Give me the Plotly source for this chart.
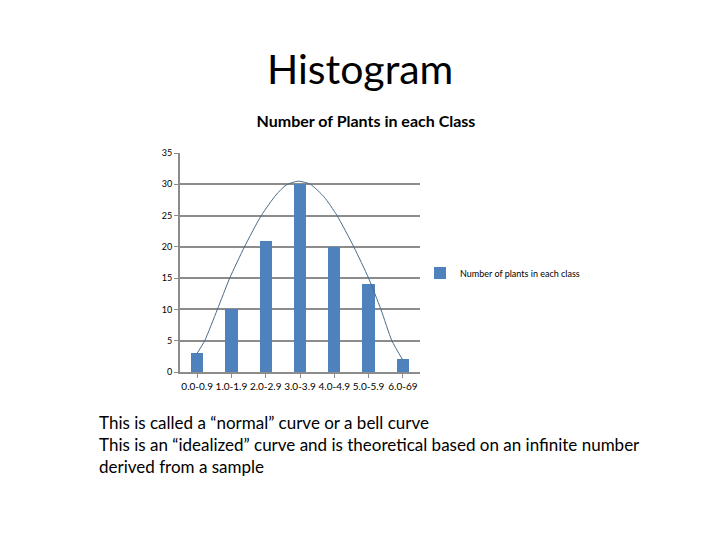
import plotly.graph_objects as go

categories = ["0.0-0.9", "1.0-1.9", "2.0-2.9", "3.0-3.9", "4.0-4.9", "5.0-5.9", "6.0-6.9"]
tick_labels = ["0.0-0.9", "1.0-1.9", "2.0-2.9", "3.0-3.9", "4.0-4.9", "5.0-5.9", "6.0-69"]
plant_counts = [3, 10, 21, 30, 20, 14, 2]

# hand-drawn bell curve (x in category units)
curve_x = [0.0, 0.22, 0.59, 0.95, 1.38, 1.87, 2.3, 2.6, 2.95, 3.3, 3.7, 4.08, 4.57, 5.0, 5.36, 5.68, 6.0]
curve_y = [3.0, 5.0, 10.0, 15.0, 20.0, 25.0, 28.3, 29.9, 30.5, 30.0, 28.0, 25.0, 20.0, 15.0, 10.0, 5.0, 1.9]

positions = list(range(len(categories)))

# page offset (body margin) and plot area in page pixels
OFF = 8
PL, PR, PT, PB = 180, 420, 153, 372
PW, PH = PR - PL, PB - PT

def px(x):
    return (x - PL) / PW

def py(y):
    return (PB - y) / PH

fig = go.Figure()
fig.add_trace(go.Bar(
    x=positions, y=plant_counts, width=0.36,
    marker=dict(color="#4F81BD", line=dict(width=0)),
    name="Number of plants in each class", showlegend=True,
))
fig.add_trace(go.Scatter(
    x=curve_x, y=curve_y, mode="lines",
    line=dict(color="#4A6C8C", width=1, shape="spline", smoothing=0.6),
    showlegend=False, hoverinfo="skip",
))

font_family = "Lato, 'Open Sans', sans-serif"

fig.update_layout(
    width=720, height=540,
    paper_bgcolor="white", plot_bgcolor="white",
    margin=dict(l=PL - OFF, r=720 - PR + OFF, t=PT - OFF, b=540 - PB + OFF),
    font=dict(family=font_family, color="black"),
    title=dict(text="<b>Number of Plants in each Class</b>", x=(366 - OFF) / 720, xref="container",
               xanchor="center", y=1 - (121 - OFF) / 540, yref="container", yanchor="middle",
               font=dict(size=16, family=font_family, color="black")),
    bargap=0,
    showlegend=True,
    legend=dict(x=px(420), y=py(273), xanchor="left", yanchor="middle",
                font=dict(size=9, family=font_family), bgcolor="rgba(0,0,0,0)",
                itemwidth=30),
    xaxis=dict(
        range=[-0.5, 6.5], tickmode="array", tickvals=positions, ticktext=tick_labels,
        showgrid=False, showline=True, linecolor="#8C8C8C", linewidth=2,
        ticks="outside", ticklen=4, tickcolor="#8C8C8C",
        tickfont=dict(size=10, family=font_family), zeroline=False,
        fixedrange=True,
    ),
    yaxis=dict(
        range=[0, 35], dtick=5, showgrid=True, gridcolor="#8C8C8C", gridwidth=2,
        showline=True, linecolor="#8C8C8C", linewidth=2,
        ticks="outside", ticklen=4, tickcolor="#8C8C8C",
        tickfont=dict(size=9, family=font_family), zeroline=False,
        fixedrange=True,
    ),
)

fig.add_annotation(text="Histogram", xref="paper", yref="paper",
                   x=px(360), y=py(68), xanchor="center", yanchor="middle",
                   showarrow=False, font=dict(size=41, family=font_family, color="black"))

body_lines = [
    "This is called a \u201cnormal\u201d curve or a bell curve",
    "This is an \u201cidealized\u201d curve and is theoretical based on an infinite number",
    "derived from a sample",
]
for i, line in enumerate(body_lines):
    fig.add_annotation(text=line, xref="paper", yref="paper",
                       x=px(97), y=py(422 + 22 * i),
                       xanchor="left", yanchor="middle", showarrow=False,
                       font=dict(size=17, family=font_family, color="black"))

fig.write_html("out.html")
